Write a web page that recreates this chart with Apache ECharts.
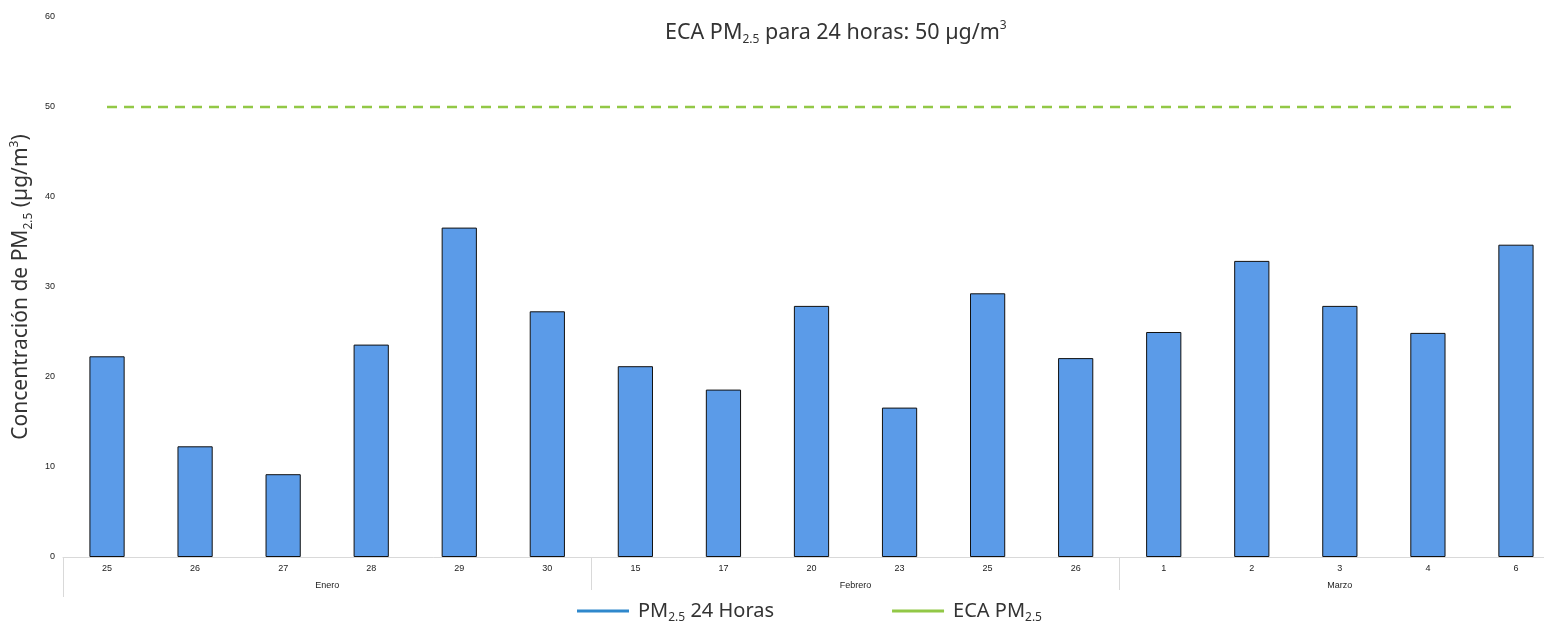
<!DOCTYPE html>
<html><head><meta charset="utf-8">
<script src="https://cdn.jsdelivr.net/npm/echarts@6/dist/echarts.min.js"></script>
<style>html,body{margin:0;padding:0;background:#fff}#c{width:1544px;height:623px}</style>
</head><body><div id="c"></div>
<script>
const days = ['25','26','27','28','29','30','15','17','20','23','25','26','1','2','3','4','6'];
const months = ['Enero','Enero','Enero','Enero','Enero','Enero','Febrero','Febrero','Febrero','Febrero','Febrero','Febrero','Marzo','Marzo','Marzo','Marzo','Marzo'];
const pm25 = [22.3,12.3,9.2,23.6,36.6,27.3,21.2,18.6,27.9,16.6,29.3,22.1,25.0,32.9,27.9,24.9,34.7];
const eca = [50,50,50,50,50,50,50,50,50,50,50,50,50,50,50,50,50];
const yTicks = [0,10,20,30,40,50,60];

const cats = days.map((d,i)=>months[i]+'|'+d);
const groups = [];
months.forEach((m,i)=>{ if(!groups.length||groups[groups.length-1].name!==m) groups.push({name:m,start:i,end:i+1}); else groups[groups.length-1].end=i+1; });
const groupCenters = groups.map(g=>(g.start+g.end)/2);
const groupBounds = groups.slice(1).map(g=>g.start);

const chart = echarts.init(document.getElementById('c'));
const sansTitle = "'Noto Sans', sans-serif";
const tickFont = "'Liberation Sans', Arial, sans-serif";
chart.setOption({
  animation:false,
  title:{
    text:'ECA PM{sub|2.5} para 24 horas: 50 µg/m{sup|3}',
    left:660, top:15,
    textStyle:{fontFamily:sansTitle,fontSize:21.5,fontWeight:'normal',color:'#333',
      rich:{sub:{fontFamily:sansTitle,fontSize:12,color:'#333',verticalAlign:'bottom',padding:[14,0,0,0]},
            sup:{fontFamily:sansTitle,fontSize:12,color:'#333',verticalAlign:'top',padding:[0,0,12,0]}}}
  },
  legend:{
    left:572, top:596, itemWidth:52, itemHeight:3, itemGap:118,
    icon:'rect',
    data:[{name:'PM24',itemStyle:{color:'#2f88cc',borderWidth:0}},{name:'ECA',itemStyle:{color:'#92c846'}}],
    formatter:function(n){return n==='PM24'?'PM{sub|2.5} 24 Horas':'ECA PM{sub|2.5}';},
    textStyle:{fontFamily:sansTitle,fontSize:20,color:'#333',padding:[0,0,0,4],
      rich:{sub:{fontFamily:sansTitle,fontSize:12,color:'#333',verticalAlign:'bottom',padding:[14,0,0,0]}}}
  },
  grid:{left:63,top:17,width:1497,bottom:66,containLabel:false,outerBoundsMode:'none'},
  xAxis:[
    {type:'category',data:cats,boundaryGap:true,
     axisLine:{show:true,lineStyle:{color:'#d9d9d9',width:1}},
     axisTick:{show:false},
     axisLabel:{interval:0,margin:7,fontFamily:tickFont,fontSize:9,color:'#222',formatter:v=>v.split('|')[1]}},
    {type:'value',min:0,max:days.length,position:'bottom',
     axisLine:{show:false},splitLine:{show:false},
     axisTick:{show:true,customValues:groupBounds,length:33,lineStyle:{color:'#d9d9d9'}},
     axisLabel:{show:true,customValues:groupCenters,margin:24,fontFamily:tickFont,fontSize:9,color:'#222',
       formatter:v=>{const k=groupCenters.indexOf(v);return k>=0?groups[k].name:'';}}},
    {type:'value',min:0,max:days.length,position:'bottom',
     axisLine:{show:false},splitLine:{show:false},
     axisTick:{show:true,customValues:[0],length:40,lineStyle:{color:'#d9d9d9'}},
     axisLabel:{show:false}}
  ],
  yAxis:{type:'value',min:0,max:60,interval:10,
    axisLine:{show:false},axisTick:{show:false},splitLine:{show:false},
    axisLabel:{margin:8,fontFamily:tickFont,fontSize:9,color:'#222',
      customValues:yTicks},
    name:'Concentración de PM{sub|2.5} (µg/m{sup|3})',nameLocation:'middle',nameGap:28,
    nameTextStyle:{fontFamily:sansTitle,fontSize:21,color:'#333',
      rich:{sub:{fontFamily:sansTitle,fontSize:12,color:'#333',verticalAlign:'bottom',padding:[14,0,0,0]},
            sup:{fontFamily:sansTitle,fontSize:12,color:'#333',verticalAlign:'top',padding:[0,0,12,0]}}}
  },
  series:[
    {name:'PM24',type:'bar',data:pm25,barWidth:'40%',
     itemStyle:{color:'#5b9be8',borderColor:'#111',borderWidth:1}},
    {name:'ECA',type:'line',data:eca,symbol:'none',
     lineStyle:{color:'#92c846',width:2.5,type:[10,7]}}
  ]
});
</script></body></html>
